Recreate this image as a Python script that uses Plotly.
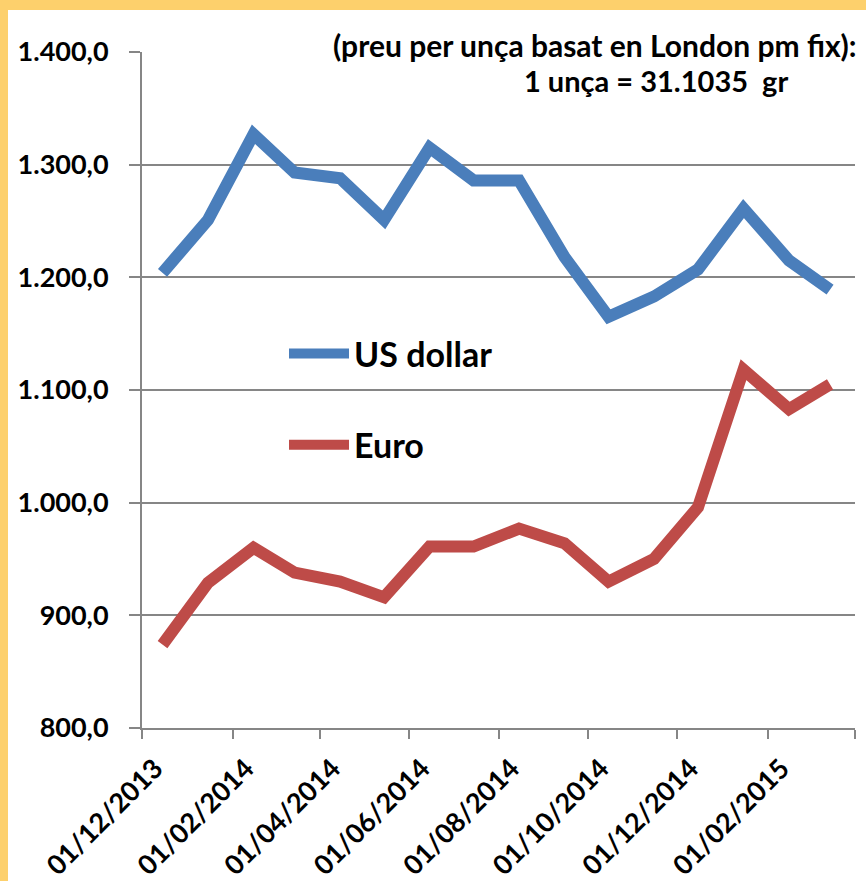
import plotly.graph_objects as go

dates = ["2013-12-15", "2014-01-15", "2014-02-15", "2014-03-15", "2014-04-15", "2014-05-15",
         "2014-06-15", "2014-07-15", "2014-08-15", "2014-09-15", "2014-10-15", "2014-11-15",
         "2014-12-15", "2015-01-15", "2015-02-15", "2015-03-15"]
usd = [1204, 1251, 1327, 1293, 1288, 1251, 1315, 1286, 1286, 1218, 1165, 1183, 1207, 1261, 1215, 1189]
eur = [874, 929, 960, 938, 930, 916, 961, 961, 977, 964, 930, 950, 996, 1118, 1083, 1105]

series_names = ["US dollar", "Euro"]
colors = ["#4A7EBB", "#BE4B48"]
title1 = "(preu per unça basat en London pm fix):"
title2 = "1 unça = 31.1035  gr"

W, H = 866, 881
L, R, T, B = 142, 11, 52, 153
pw, ph = W - L - R, H - T - B

def px2x(p):
    return (p - L) / pw

def px2y(p):
    return (H - B - p) / ph

fig = go.Figure()
for name, vals, c, g in zip(series_names, [usd, eur], colors, ["a", "b"]):
    fig.add_trace(go.Scatter(x=dates, y=vals, mode="lines", name=name, legendgroup=g,
                             line=dict(color=c, width=12)))

font_fam = "Lato"
fig.update_layout(
    width=W, height=H,
    margin=dict(l=L, r=R, t=T, b=B, autoexpand=False),
    paper_bgcolor="#FDD06C",
    plot_bgcolor="white",
    separators=",.",
    showlegend=True,
    legend=dict(x=px2x(284), y=px2y(325), xanchor="left", yanchor="top",
                font=dict(family=font_fam, size=34, color="black", weight="bold"),
                bgcolor="rgba(0,0,0,0)", tracegroupgap=44, itemwidth=60,
                traceorder="grouped"),
    xaxis=dict(type="date", range=["2013-12-01", "2015-04-01"], tick0="2013-12-01", dtick="M2",
               tickformat="%d/%m/%Y", tickangle=-45, showgrid=False, automargin=False,
               showline=True, linecolor="#868686", linewidth=2,
               ticks="outside", ticklen=9, tickwidth=2, tickcolor="#868686",
               tickfont=dict(family=font_fam, size=27, color="black", weight="bold"),
               ticklabelshift=13, ticklabelstandoff=3),
    yaxis=dict(range=[800, 1400], dtick=100, tickformat=",.1f", automargin=False,
               showgrid=True, gridcolor="#868686", gridwidth=2,
               showline=True, linecolor="#868686", linewidth=2,
               ticks="outside", ticklen=11, tickwidth=2, tickcolor="#868686",
               tickfont=dict(family=font_fam, size=27, color="black", weight="bold"),
               ticklabelstandoff=15, zeroline=False),
    shapes=[dict(type="rect", xref="paper", yref="paper", layer="below",
                 x0=px2x(8), x1=px2x(W + 20), y0=px2y(H + 20), y1=px2y(10),
                 fillcolor="white", line=dict(width=0))],
    annotations=[
        dict(text=title1, xref="paper", yref="paper", x=px2x(859), y=px2y(45),
             xanchor="right", yanchor="middle", showarrow=False,
             font=dict(family=font_fam, size=30, color="black", weight="bold")),
        dict(text=title2, xref="paper", yref="paper", x=px2x(656), y=px2y(80),
             xanchor="center", yanchor="middle", showarrow=False,
             font=dict(family=font_fam, size=29, color="black", weight="bold")),
    ],
)

fig.write_html("out.html", config={"displayModeBar": False},
               post_script="document.body.style.margin='0px';document.body.style.overflow='hidden';")
